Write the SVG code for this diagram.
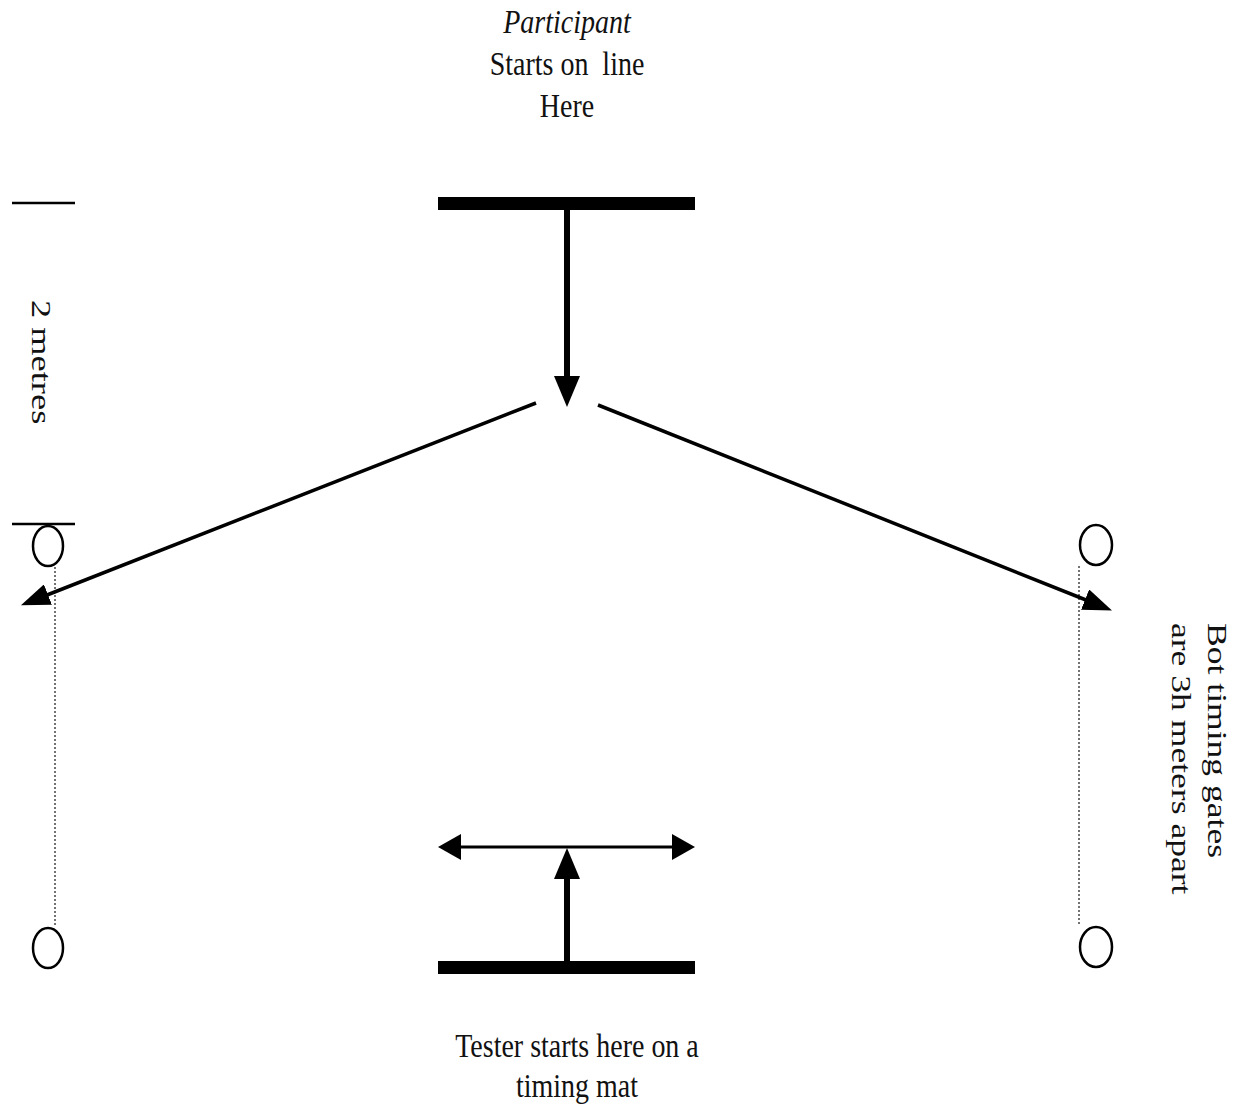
<svg xmlns="http://www.w3.org/2000/svg" width="1249" height="1110" viewBox="0 0 1249 1110">
<style>
  text { font-family: "Liberation Serif", "Times New Roman", serif; font-size: 28px; fill: #111; }
  .bar { fill: #000; }
  .tick { stroke: #000; stroke-width: 2.5; }
  .gate { fill: none; stroke: #000; stroke-width: 2.5; }
  .dots { stroke: #444; stroke-width: 1.5; stroke-dasharray: 2 2; fill: none; }
  .shaft { stroke: #000; stroke-width: 6; fill: none; }
  .diag { stroke: #000; stroke-width: 3.5; fill: none; }
  .thin { stroke: #000; stroke-width: 3; fill: none; }
</style>
<defs>
  <marker id="headBig" markerUnits="userSpaceOnUse" markerWidth="31" markerHeight="26" refX="1" refY="13" orient="auto">
    <path d="M0,0 L31,13 L0,26 z" fill="#000"/>
  </marker>
  <marker id="headMid" markerUnits="userSpaceOnUse" markerWidth="29" markerHeight="22" refX="1" refY="11" orient="auto">
    <path d="M0,0 L29,11 L0,22 z" fill="#000"/>
  </marker>
  <marker id="headSmall" markerUnits="userSpaceOnUse" markerWidth="23" markerHeight="26" refX="1" refY="13" orient="auto-start-reverse">
    <path d="M0,0 L23,13 L0,26 z" fill="#000"/>
  </marker>
</defs>

<g id="participant-label">
  <text transform="translate(567,33) scale(1,1.2)" text-anchor="middle" font-style="italic">Participant</text>
  <text transform="translate(567,75) scale(1,1.2)" text-anchor="middle" xml:space="preserve">Starts on  line</text>
  <text transform="translate(567,117) scale(1,1.2)" text-anchor="middle">Here</text>
</g>

<g id="start-line">
  <rect class="bar" x="438" y="197" width="257" height="13"/>
</g>

<g id="tester-line">
  <rect class="bar" x="438" y="961" width="257" height="13"/>
</g>

<g id="distance-marker">
  <line class="tick" x1="12" y1="203" x2="75" y2="203"/>
  <line class="tick" x1="12" y1="524" x2="75" y2="524"/>
  <text transform="translate(32,300) rotate(90) scale(1.3,1)">2 metres</text>
</g>

<g id="gate-left">
  <ellipse class="gate" cx="48" cy="546" rx="15" ry="20"/>
  <ellipse class="gate" cx="48" cy="948" rx="15" ry="20"/>
  <line class="dots" x1="55" y1="567" x2="55" y2="927"/>
</g>

<g id="gate-right">
  <ellipse class="gate" cx="1096" cy="545" rx="16" ry="20"/>
  <ellipse class="gate" cx="1096" cy="947" rx="16" ry="20"/>
  <line class="dots" x1="1079" y1="566" x2="1079" y2="926"/>
</g>

<g id="gates-label">
  <text transform="translate(1208,623) rotate(90) scale(1.27,1)">Bot timing gates</text>
  <text transform="translate(1172,623) rotate(90) scale(1.27,1)">are 3h meters apart</text>
</g>

<g id="tester-label">
  <text transform="translate(577,1057) scale(1,1.2)" text-anchor="middle">Tester starts here on a</text>
  <text transform="translate(577,1097) scale(1,1.2)" text-anchor="middle">timing mat</text>
</g>

<g id="connectors">
  <line class="shaft" x1="567" y1="210" x2="567" y2="377" marker-end="url(#headBig)"/>
  <line class="diag" x1="536" y1="403" x2="47" y2="595" marker-end="url(#headMid)"/>
  <line class="diag" x1="598" y1="405" x2="1086" y2="600" marker-end="url(#headMid)"/>
  <line class="shaft" x1="567" y1="961" x2="567" y2="878" marker-end="url(#headBig)"/>
  <line class="thin" x1="460" y1="847" x2="673" y2="847" marker-start="url(#headSmall)" marker-end="url(#headSmall)"/>
</g>
</svg>
